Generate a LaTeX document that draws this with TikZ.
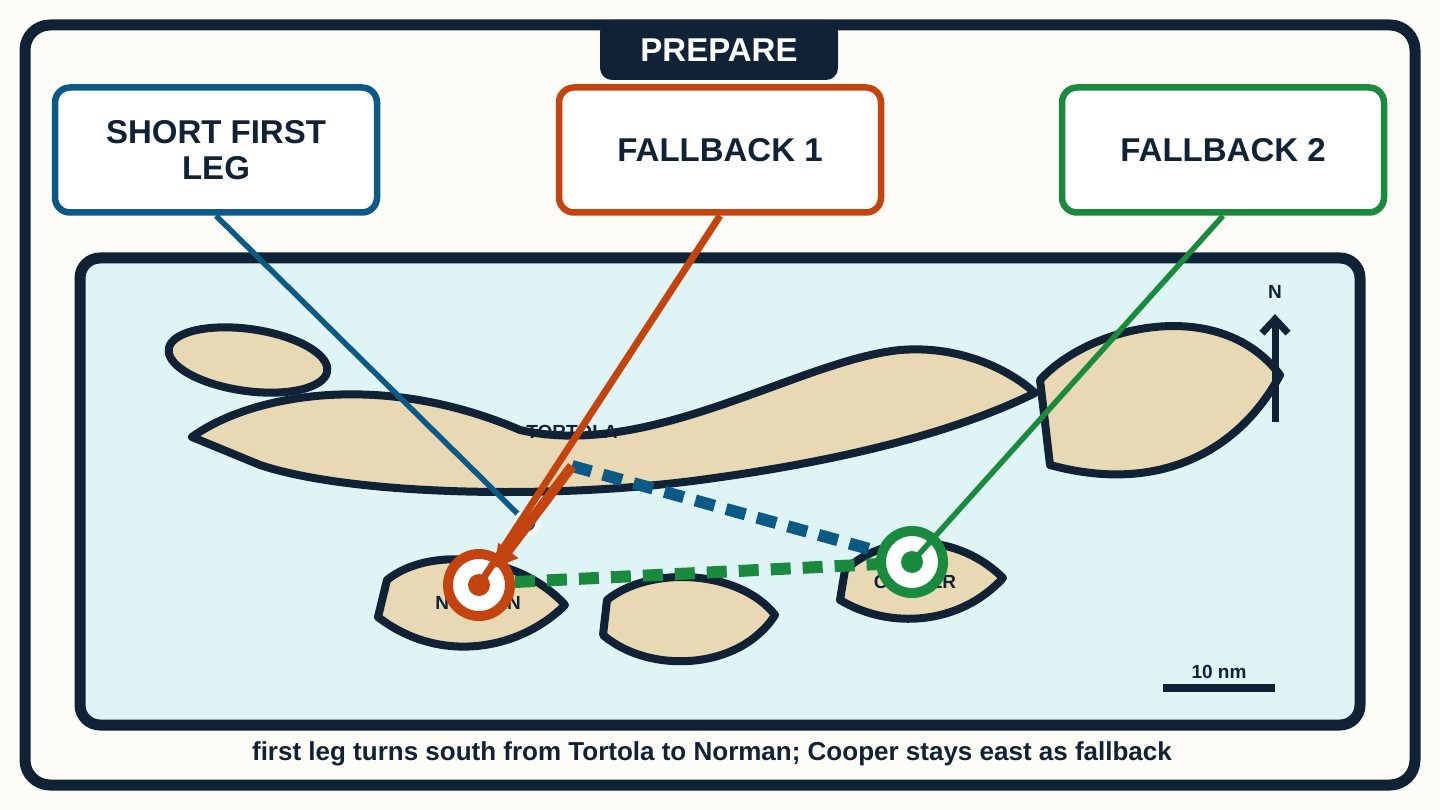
\documentclass[tikz,border=0pt]{standalone}
\usepackage{fontspec}
\setmainfont{Liberation Sans}
\usetikzlibrary{arrows.meta}
\definecolor{ink}{HTML}{0F2236}
\definecolor{sand}{HTML}{E8D8B4}
\definecolor{sea}{HTML}{DFF5F5}
\definecolor{paper}{HTML}{FDFCF7}
\definecolor{legblue}{HTML}{0B5A86}
\definecolor{legorange}{HTML}{C4440F}
\definecolor{leggreen}{HTML}{1A8A3E}
\tikzset{
  island/.style={draw=ink, line width=8pt, fill=sand, line join=round},
  callout/.style={draw=#1, line width=6.5pt, fill=white, rounded corners=15pt,
    minimum width=322pt, minimum height=125pt, align=center,
    font=\fontsize{33}{36}\selectfont\bfseries, text=ink},
  place/.style={font=\fontsize{19}{21}\selectfont\bfseries, text=ink},
}
\begin{document}
\begin{tikzpicture}[x=1pt,y=-1pt]
	\useasboundingbox (0,0) rectangle (1440,810);
	\fill[paper] (0,0) rectangle (1440,810);
	\draw[ink, line width=11pt, fill=paper, rounded corners=25pt] (25,25) rectangle (1415,785);
	\draw[ink, line width=11pt, fill=sea, rounded corners=20pt] (80,258) rectangle (1360,725);

	% islands
	\draw[island, rotate around={-8:(248,360)}] (248,360) ellipse (80 and 31);
	\draw[island] (192,437) .. controls (250,395) and (380,370) .. (520,430)
		.. controls (650,460) and (800,360) .. (900,350)
		.. controls (960,345) and (1010,370) .. (1035,393)
		.. controls (960,430) and (850,460) .. (700,480)
		.. controls (550,500) and (350,495) .. (260,465) -- cycle;
	\draw[island] (1040,380) .. controls (1090,325) and (1220,295) .. (1280,375)
		.. controls (1240,450) and (1160,495) .. (1050,465) -- cycle;
	\draw[island] (387,580) .. controls (430,545) and (520,555) .. (565,605)
		.. controls (520,650) and (440,665) .. (378,617) -- cycle;
	\draw[island] (607,600) .. controls (650,565) and (740,570) .. (775,615)
		.. controls (740,670) and (650,675) .. (603,635) -- cycle;
	\draw[island] (845,570) .. controls (890,530) and (960,535) .. (1003,578)
		.. controls (960,625) and (890,630) .. (840,600) -- cycle;

	\node[place] (tortola) at (572,432) {TORTOLA};
	\node[place] (norman) at (478,603) {NORMAN};
	\node[place] (cooper) at (915,582) {COOPER};

	% boxes
	\node[callout=legblue] (short) at (216,150) {SHORT FIRST\\LEG};
	\node[callout=legorange] (fallone) at (720,150) {FALLBACK 1};
	\node[callout=leggreen] (falltwo) at (1223,150) {FALLBACK 2};

	% markers
	\coordinate (legpt) at (527,523);
	\draw[legblue, line width=5.5pt] (short.south) -- (legpt);
	\node[circle, draw=white, fill=legblue, line width=5pt, minimum size=22pt, inner sep=0] (leg) at (legpt) {};
	\coordinate (start) at (572,466);
	\draw[legblue, line width=12pt, dash pattern=on 20pt off 12pt] (start) -- (880,552);
	\draw[leggreen, line width=12pt, dash pattern=on 20pt off 12pt] (515,582) -- (880,564);
	\node[circle, draw=legorange, fill=white, line width=10pt, minimum size=62pt, inner sep=0] (fb1) at (479,585) {};
	\fill[legorange] (fb1.center) circle (11);
	\node[circle, draw=leggreen, fill=white, line width=10pt, minimum size=62pt, inner sep=0] (fb2) at (912,562) {};
	\fill[leggreen] (fb2.center) circle (11);
	\draw[legorange, line width=10pt, -{Triangle[length=22pt,width=24pt]}] (start) -- (495,568);
	\draw[legorange, line width=7pt] (fallone.south) -- (fb1.center);
	\draw[leggreen, line width=5.5pt] (falltwo.south) -- (fb2.center);

	\node[fill=ink, rounded corners=12pt, minimum width=238pt, minimum height=60pt,
		text=white, font=\fontsize{33}{36}\selectfont\bfseries] (title) at (719,50) {PREPARE};

	% north arrow and scale
	\node[place] (north) at (1275,292) {N};
	\coordinate (nbase) at (1275,422);
	\draw[ink, line width=7pt, -{Straight Barb[length=14pt,width=26pt]}] (nbase) -- (1275,314);
	\node[place] (scale) at (1219,672) {10 nm};
	\draw[ink, line width=8pt] (1163,688) -- (1275,688);

	\node[font=\fontsize{26}{28}\selectfont\bfseries, text=ink] (caption) at (712,754)
		{first leg turns south from Tortola to Norman; Cooper stays east as fallback};
\end{tikzpicture}
\end{document}
